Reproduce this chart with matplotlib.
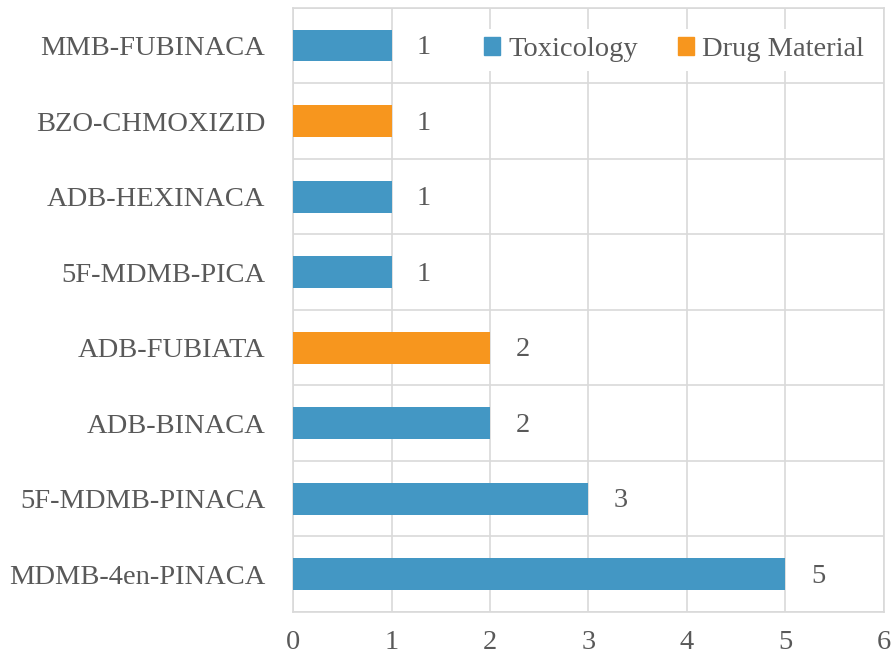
import matplotlib.pyplot as plt
from matplotlib.patches import Patch

drugs = ["MDMB-4en-PINACA", "5F-MDMB-PINACA", "ADB-BINACA", "ADB-FUBIATA",
         "5F-MDMB-PICA", "ADB-HEXINACA", "BZO-CHMOXIZID", "MMB-FUBINACA"]
counts = [5, 3, 2, 2, 1, 1, 1, 1]
sources = ["Toxicology", "Toxicology", "Toxicology", "Drug Material",
           "Toxicology", "Toxicology", "Drug Material", "Toxicology"]
colors = {"Toxicology": "#4397c4", "Drug Material": "#f7961e"}
text_color = "#595959"
grid_color = "#d9d9d9"

plt.rcParams["font.family"] = ["Liberation Serif", "DejaVu Serif"]

fig = plt.figure(figsize=(8.92, 6.57), dpi=100)
ax = fig.add_axes([0.3285, 0.0685, 0.6625, 0.9195])

y = range(len(drugs))
ax.barh(y, counts, height=0.42, color=[colors[s] for s in sources], zorder=3)
for i, v in enumerate(counts):
    ax.text(v + 0.33, i - 0.03, str(v), ha="center", va="center",
            fontsize=20.5, color=text_color)

ax.set_xlim(0, 6)
ax.set_ylim(-0.5, len(drugs) - 0.5)
ax.set_yticks(list(y))
ax.set_yticklabels(drugs, fontsize=20.5, color=text_color)
ax.set_yticks([i - 0.5 for i in range(len(drugs) + 1)], minor=True)
ax.set_xticks(range(7))
ax.tick_params(axis="x", labelsize=20.5, labelcolor=text_color, length=0, pad=13)
ax.tick_params(axis="y", which="both", length=0, pad=24)
ax.tick_params(axis="y", which="major", pad=20)
ax.grid(True, axis="x", color=grid_color, linewidth=1.2, zorder=0)
ax.grid(True, axis="y", which="minor", color=grid_color, linewidth=1.2, zorder=0)
for sp in ax.spines.values():
    sp.set_color(grid_color)
    sp.set_linewidth(1.2)

handles = [Patch(color=colors["Toxicology"], label="Toxicology"),
           Patch(color=colors["Drug Material"], label="Drug Material")]
leg = ax.legend(handles=handles, loc="upper right", ncol=2, fontsize=20.5,
                frameon=True, framealpha=1, edgecolor="none",
                bbox_to_anchor=(0.995, 0.98), handlelength=0.55, handleheight=0.55,
                handletextpad=0.3, columnspacing=1.4, borderaxespad=0.3,
                borderpad=0.3)
for t in leg.get_texts():
    t.set_color(text_color)
leg.set_zorder(5)

fig.savefig("out.png", dpi=100)
